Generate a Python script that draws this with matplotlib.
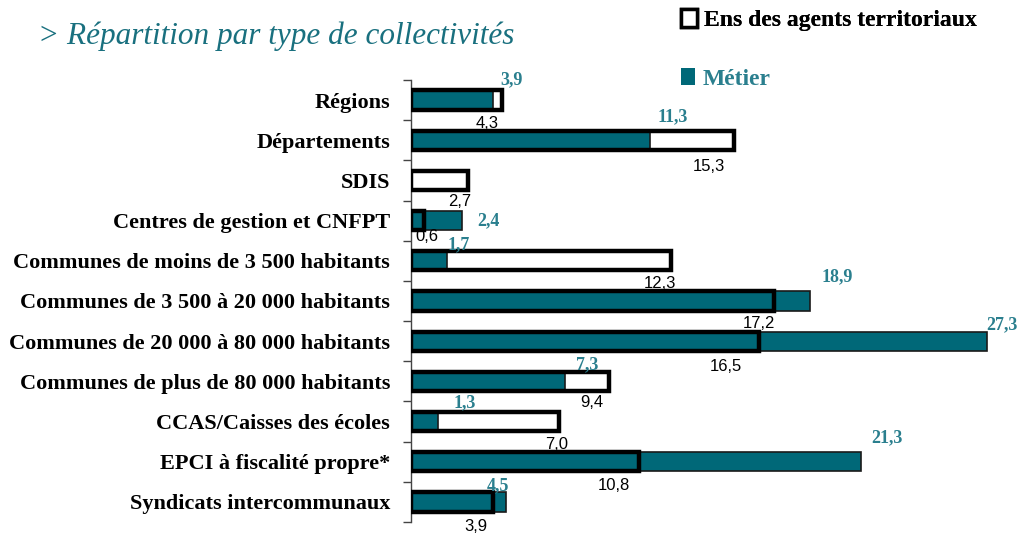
import numpy as np
import matplotlib.pyplot as plt
from matplotlib.patches import Patch

# données
categories = [
    "Régions",
    "Départements",
    "SDIS",
    "Centres de gestion et CNFPT",
    "Communes de moins de 3 500 habitants",
    "Communes de 3 500 à 20 000 habitants",
    "Communes de 20 000 à 80 000 habitants",
    "Communes de plus de 80 000 habitants",
    "CCAS/Caisses des écoles",
    "EPCI à fiscalité propre*",
    "Syndicats intercommunaux",
]
ens_agents = [4.3, 15.3, 2.7, 0.6, 12.3, 17.2, 16.5, 9.4, 7.0, 10.8, 3.9]
metier = [3.9, 11.3, 0.0, 2.4, 1.7, 18.9, 27.3, 7.3, 1.3, 21.3, 4.5]
ens_labels = ["4,3", "15,3", "2,7", "0,6", "12,3", "17,2", "16,5", "9,4", "7,0", "10,8", "3,9"]
metier_labels = ["3,9", "11,3", "", "2,4", "1,7", "18,9", "27,3", "7,3", "1,3", "21,3", "4,5"]

# décalages des étiquettes (pixels, x vers la droite, y vers le bas)
dec_ens = [(-15, 23), (-25, 26), (-8, 21), (3, 16), (-11, 23), (-15, 23),
           (-33, 25), (-18, 21), (-2, 23), (-25, 24), (-17, 25)]
dec_metier = [(18, -20), (23, -24), (0, 0), (27, 0), (12, -16), (27, -24),
              (15, -16), (22, -17), (26, -19), (26, -24), (-8, -16)]

teal = "#006878"
teal_txt = "#2a7f8e"
serif = ["Liberation Serif", "DejaVu Serif"]

dpi = 100
fig = plt.figure(figsize=(10.22, 5.34), dpi=dpi)
ax = fig.add_axes([411 / 1022, 12 / 534, 591 / 1022, 442 / 534])

y = np.arange(len(categories))
h = 0.48

ax.barh(y, ens_agents, height=h, color="white", edgecolor="none", zorder=1)
ax.barh(y, metier, height=h, color=teal, edgecolor="#1a1a1a", linewidth=1.2, zorder=2)
ax.barh(y, ens_agents, height=h, color="none", edgecolor="black", linewidth=3.2, zorder=3)

px = 72 / dpi
for i in range(len(categories)):
    dx, dy = dec_ens[i]
    ax.annotate(ens_labels[i], (ens_agents[i], y[i]), xytext=(dx * px, -dy * px),
                textcoords="offset points", ha="center", va="center",
                fontsize=12, family=["Liberation Sans", "DejaVu Sans"], color="black")
    if metier_labels[i]:
        dx, dy = dec_metier[i]
        ax.annotate(metier_labels[i], (metier[i], y[i]), xytext=(dx * px, -dy * px),
                    textcoords="offset points", ha="center", va="center",
                    fontsize=13, family=serif, fontweight="bold", color=teal_txt)

ax.set_xlim(0, 28)
ax.set_ylim(len(categories) - 0.5, -0.5)
ax.set_yticks(y)
ax.set_yticklabels(categories, family=serif, fontweight="bold", fontsize=16)
ax.set_yticks(np.arange(-0.5, len(categories)), minor=True)
ax.tick_params(axis="y", which="major", length=0, pad=15)
ax.tick_params(axis="y", which="minor", length=6, width=1, color="#444444", direction="out")
ax.set_xticks([])
for s in ["top", "right", "bottom"]:
    ax.spines[s].set_visible(False)
ax.spines["left"].set_color("#444444")
ax.spines["left"].set_linewidth(1)

fig.text(38 / 1022, 1 - 36 / 534, "> Répartition par type de collectivités",
         family=serif, style="italic", fontsize=22.5, color="#19707f", va="center")

leg1 = fig.legend(handles=[Patch(facecolor="white", edgecolor="black", linewidth=2.5)],
                  labels=["Ens des agents territoriaux"], loc="center left",
                  bbox_to_anchor=(660 / 1022, 1 - 20 / 534), frameon=False,
                  handlelength=0.65, handleheight=0.8, handletextpad=0.3,
                  prop={"family": serif, "weight": "bold", "size": 17})
leg2 = fig.legend(handles=[Patch(facecolor=teal, edgecolor="none")],
                  labels=["Métier"], loc="center left",
                  bbox_to_anchor=(660 / 1022, 1 - 79 / 534), frameon=False,
                  handlelength=0.6, handleheight=0.7, handletextpad=0.3,
                  prop={"family": serif, "weight": "bold", "size": 17},
                  labelcolor=teal_txt)
fig.add_artist(leg1)

fig.savefig("out.png", dpi=dpi)
